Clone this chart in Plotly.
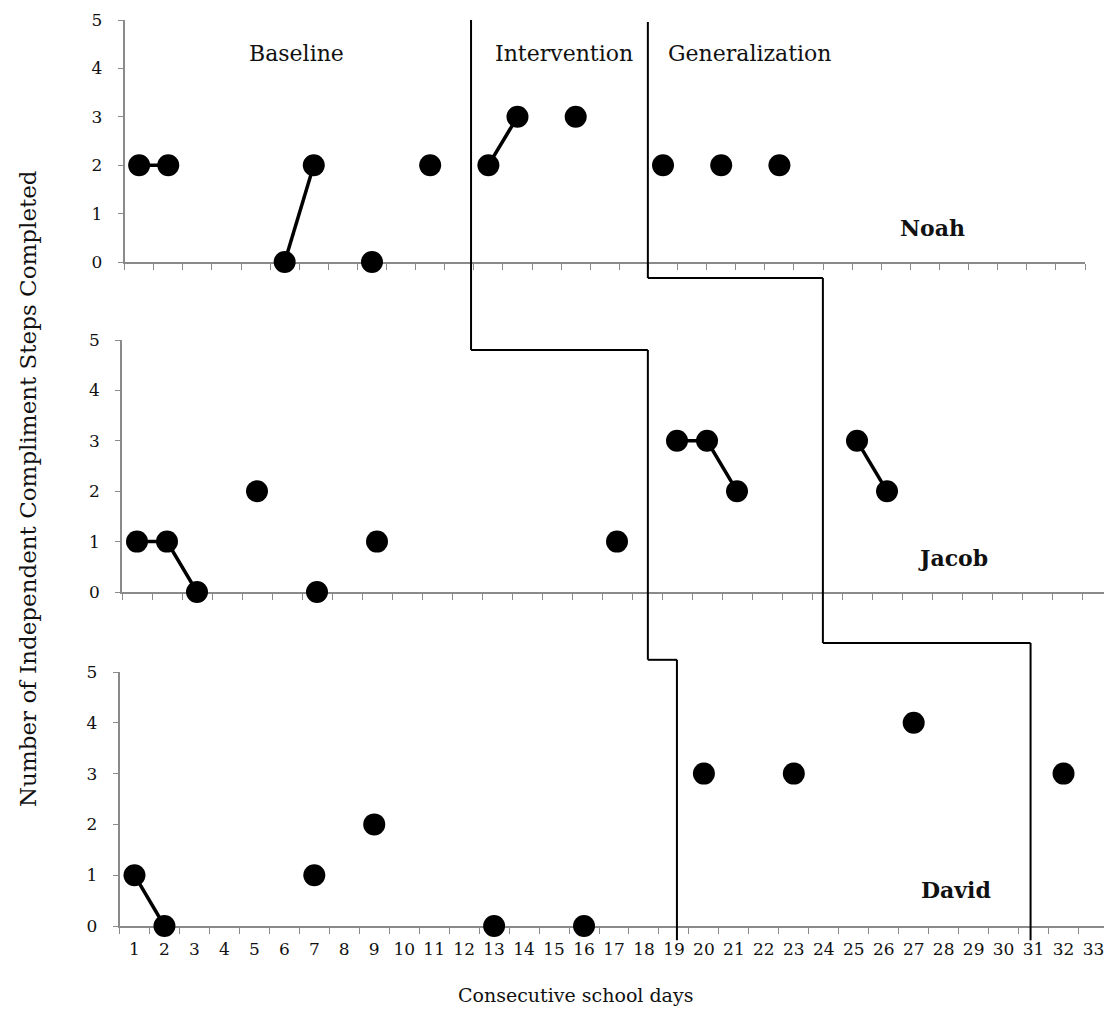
import plotly.graph_objects as go

# ---------------- data ----------------
day_ticks = list(range(1, 34))
day_labels = [str(d) for d in day_ticks]
day_bounds = [d - 0.5 for d in range(1, 35)]
step_ticks = [0, 1, 2, 3, 4, 5]

participants = ["Noah", "Jacob", "David"]

noah_days = [1, 2, 6, 7, 9, 11, 13, 14, 16, 19, 21, 23]
noah_steps = [2, 2, 0, 2, 0, 2, 2, 3, 3, 2, 2, 2]

jacob_days = [1, 2, 3, 5, 7, 9, 17, 19, 20, 21, 25, 26]
jacob_steps = [1, 1, 0, 2, 0, 1, 1, 3, 3, 2, 3, 2]

david_days = [1, 2, 7, 9, 13, 16, 20, 23, 27, 32]
david_steps = [1, 0, 1, 2, 0, 0, 3, 3, 4, 3]

phase_names = ["Baseline", "Intervention", "Generalization"]
phase_label_days = [6.42, 15.6, 21.99]      # on Noah's axis
phase_label_value = 4.3

# phase-change lines: vertices (day on bottom axis, panel index, panel value)
phase_line_1 = [(12.23, 0, 5.0), (12.23, 1, 4.8), (18.13, 1, 4.8),
                (18.13, 2, 5.24), (19.1, 2, 5.24), (19.1, 2, -0.28)]
phase_line_2 = [(18.13, 0, 4.96), (18.13, 0, -0.33), (23.97, 0, -0.33),
                (23.97, 2, 5.57), (30.9, 2, 5.57), (30.9, 2, -0.28)]

name_label_pos = [(28.25, 0.70), (28.2, 0.67), (28.41, 0.71)]

series = [(noah_days, noah_steps), (jacob_days, jacob_steps), (david_days, david_steps)]

# ---------------- layout geometry (page pixels) ----------------
W, H = 1104, 1012
panels = [
    dict(x0=124.6, x1=1085.0, xr=[0.5, 33.5], yb=262, yt=20),
    dict(x0=122.0, x1=1104.0, xr=[0.5, 33.233], yb=592, yt=340),
    dict(x0=119.5, x1=1104.0, xr=[0.5, 33.35], yb=926, yt=672),
]
YR = [0, 5]
FONT = "DejaVu Serif"
AXC = "#8a8a8a"
TXT = "#111111"

fig = go.Figure()


def connect(days, vals):
    xs, ys = [], []
    for i, (d, v) in enumerate(zip(days, vals)):
        if i > 0 and d - days[i - 1] != 1:
            xs.append(None)
            ys.append(None)
        xs.append(d)
        ys.append(v)
    return xs, ys


for i, (days, vals) in enumerate(series):
    xs, ys = connect(days, vals)
    sfx = "" if i == 0 else str(i + 1)
    fig.add_trace(go.Scatter(
        x=xs, y=ys, mode="lines+markers",
        line=dict(color="black", width=3.5),
        marker=dict(size=22, color="black"),
        cliponaxis=False, connectgaps=False, showlegend=False,
        hoverinfo="skip",
        xaxis="x" + sfx, yaxis="y" + sfx, name=participants[i],
    ))

layout = dict(
    width=W, height=H,
    margin=dict(l=0, r=0, t=0, b=0, pad=0, autoexpand=False),
    paper_bgcolor="white", plot_bgcolor="white", showlegend=False,
)

ydomains = []
for i, p in enumerate(panels):
    sfx = "" if i == 0 else str(i + 1)
    xd = [p["x0"] / W, p["x1"] / W]
    yd = [1 - p["yb"] / H, 1 - p["yt"] / H]
    ydomains.append(yd)
    xa = dict(
        domain=xd, range=p["xr"], anchor="y" + sfx, automargin=False,
        showline=True, linecolor=AXC, linewidth=1.5,
        showgrid=False, zeroline=False, layer="below traces",
        tickfont=dict(family=FONT, size=17, color=TXT),
        ticklabeloverflow="allow",
        minor=dict(tickvals=day_bounds, ticks="outside", ticklen=6,
                   tickcolor=AXC, tickwidth=1.2, showgrid=False),
    )
    if i == 2:
        xa.update(tickvals=day_ticks, ticktext=day_labels, ticks="",
                  showticklabels=True, ticklabelstandoff=7)
    else:
        xa.update(tickvals=day_ticks, ticks="", showticklabels=False)
    ya = dict(
        domain=yd, range=YR, anchor="x" + sfx, automargin=False,
        showline=True, linecolor=AXC, linewidth=1.5,
        showgrid=False, zeroline=False, layer="below traces",
        tickvals=step_ticks, ticks="outside", ticklen=5,
        tickcolor=AXC, tickwidth=1.2,
        tickfont=dict(family=FONT, size=17, color=TXT),
        ticklabelstandoff=12, ticklabeloverflow="allow",
    )
    layout["xaxis" + sfx] = xa
    layout["yaxis" + sfx] = ya

fig.update_layout(**layout)


def paper_y(panel, value):
    d0, d1 = ydomains[panel]
    return d0 + (value - YR[0]) / (YR[1] - YR[0]) * (d1 - d0)


shapes = []
for line in (phase_line_1, phase_line_2):
    for (xa_, pa, va), (xb, pb, vb) in zip(line[:-1], line[1:]):
        shapes.append(dict(
            type="line", xref="x3", yref="paper",
            x0=xa_, x1=xb, y0=paper_y(pa, va), y1=paper_y(pb, vb),
            line=dict(color="black", width=2),
        ))
fig.update_layout(shapes=shapes)

annotations = []
for name, dx in zip(phase_names, phase_label_days):
    annotations.append(dict(
        text=name, x=dx, y=phase_label_value, xref="x", yref="y",
        xanchor="center", yanchor="middle",
        showarrow=False, font=dict(family=FONT, size=22, color=TXT),
    ))
for i, (name, (dx, vy)) in enumerate(zip(participants, name_label_pos)):
    sfx = "" if i == 0 else str(i + 1)
    annotations.append(dict(
        text="<b>" + name + "</b>", x=dx, y=vy, xref="x" + sfx, yref="y" + sfx,
        xanchor="center", yanchor="middle",
        showarrow=False, font=dict(family=FONT, size=22, color=TXT),
    ))
annotations.append(dict(
    text="Consecutive school days", x=575 / W, y=1 - 995 / H,
    xref="paper", yref="paper", xanchor="center", yanchor="middle",
    showarrow=False, font=dict(family=FONT, size=19, color=TXT),
))
annotations.append(dict(
    text="Number of Independent Compliment Steps Completed",
    x=28 / W, y=1 - 489 / H, xref="paper", yref="paper", textangle=-90,
    xanchor="center", yanchor="middle",
    showarrow=False, font=dict(family=FONT, size=23, color=TXT),
))
fig.update_layout(annotations=annotations)

fig.write_html(
    "out.html",
    config={"displayModeBar": False},
    post_script="document.body.style.margin='0';document.body.style.overflow='hidden';",
)
